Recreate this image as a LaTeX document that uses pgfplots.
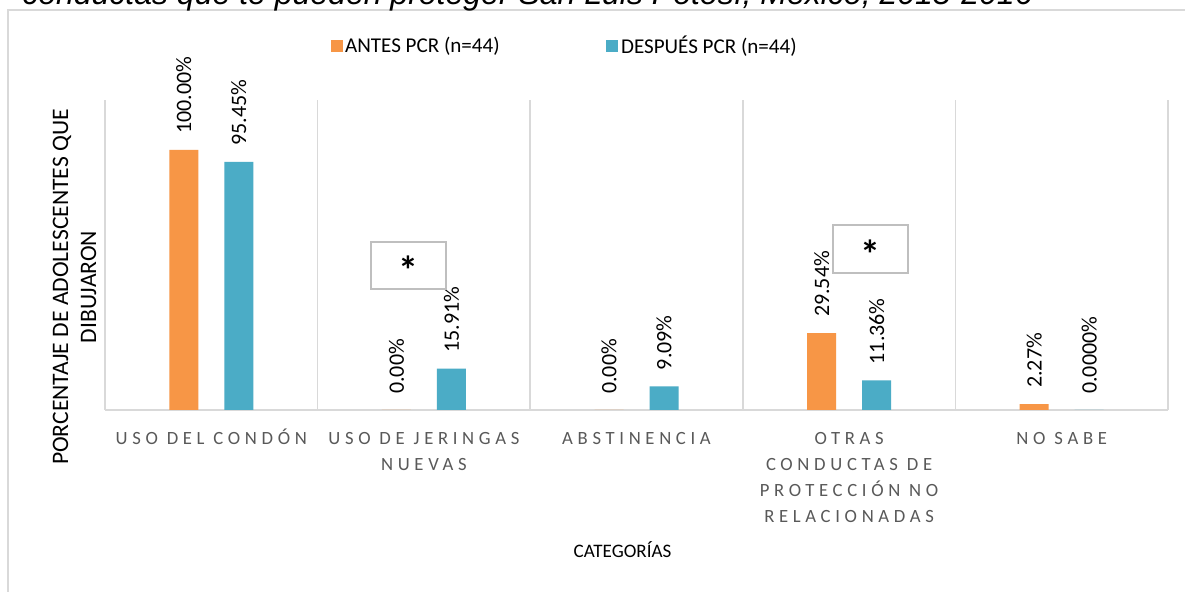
\documentclass[border=0pt]{standalone}
\usepackage{pgfplots}
\pgfplotsset{compat=1.18}
\usepackage{pgfplotstable}
\usepackage{fontspec}
\setmainfont{Carlito}
\newfontfamily\tickfont[LetterSpace=25]{Carlito}
\newfontfamily\titlefont{Liberation Sans}
\definecolor{antes}{HTML}{F79646}
\definecolor{despues}{HTML}{4BACC6}
\definecolor{gridc}{HTML}{D9D9D9}
\definecolor{tickc}{HTML}{595959}
\definecolor{boxc}{HTML}{BFBFBF}
\newcommand\ph{\vphantom{Ó}}

\pgfplotstableread{
x y lab
0 100 100.00
1 0 0.00
2 0 0.00
3 29.54 29.54
4 2.27 2.27
}\antes
\pgfplotstableread{
x y lab
0 95.45 95.45
1 15.91 15.91
2 9.09 9.09
3 11.36 11.36
4 0 0.0000
}\despues

\begin{document}
\begin{tikzpicture}
\begin{scope}[x=0.75pt,y=0.75pt]
\useasboundingbox (0,0) rectangle (1185,592);
\fill[white] (0,0) rectangle (1185,592);
\draw[gridc, line width=1.2pt] (8,-20) -- (8,582) -- (1200,582);
\node[anchor=base west, inner sep=0pt, font=\titlefont\itshape\fontsize{24}{28}\selectfont] at (22,587.5) {conductas que te pueden proteger San Luis Potosí, México, 2015-2016};
\end{scope}

\begin{axis}[
  at={(78.75pt,136.5pt)}, anchor=south west,
  scale only axis, width=797.25pt, height=232.5pt,
  xmin=-0.5, xmax=4.5, ymin=0, ymax=119.2,
  enlargelimits=false, clip=false,
  ybar=19.5pt, bar width=21.75pt,
  axis line style={draw=none},
  ytick=\empty,
  xtick={0,1,2,3,4},
  xticklabels={\ph USO DEL CONDÓN, {\ph USO DE JERINGAS\\NUEVAS}, \ph ABSTINENCIA, {\ph OTRAS\\CONDUCTAS DE\\PROTECCIÓN NO\\RELACIONADAS}, \ph NO SABE},
  major tick length=0pt,
  xticklabel style={font=\tickfont\fontsize{14}{19.5}\selectfont, text=tickc, align=center, anchor=north, inner sep=0pt, yshift=-14pt},
  extra x ticks={-0.5,0.5,1.5,2.5,3.5,4.5},
  extra x tick labels={},
  extra x tick style={grid=major, major grid style={gridc, line width=1.1pt}},
  extra y ticks={0},
  extra y tick labels={},
  extra y tick style={grid=major, major grid style={gridc, line width=1.5pt}},
  point meta=explicit symbolic,
  nodes near coords={\pgfplotspointmeta\%},
  nodes near coords style={font=\fontsize{16.5}{20}\selectfont, text=black, rotate=90, anchor=west, inner xsep=12pt, inner ysep=0pt},
  legend columns=2,
  legend style={at={(0.4327,1.174)}, anchor=center, draw=none, fill=none,
    font=\fontsize{15.8}{18}\selectfont,
    /tikz/every even column/.append style={column sep=78pt}},
  legend image code/.code={\fill[#1] (0pt,-4.5pt) rectangle (9pt,4.5pt);},
]
\addplot[fill=antes, draw=none] table[x=x, y=y, meta=lab] {\antes};
\addplot[fill=despues, draw=none] table[x=x, y=y, meta=lab] {\despues};
\legend{ANTES PCR (n=44), DESPUÉS PCR (n=44)}
\end{axis}

\begin{scope}[x=0.75pt,y=0.75pt]
\draw[boxc, line width=1.2pt] (371,592-242) rectangle (446,592-289);
\node[font=\bfseries\fontsize{30}{30}\selectfont, inner sep=0pt] at (408,592-270) {*};
\draw[boxc, line width=1.2pt] (833,592-225) rectangle (908,592-273);
\node[font=\bfseries\fontsize{30}{30}\selectfont, inner sep=0pt] at (870,592-254) {*};
\node[rotate=90, align=center, inner sep=0pt, font=\fontsize{17.7}{21}\selectfont] at (74.5,592-287) {PORCENTAJE DE ADOLESCENTES QUE\\DIBUJARON};
\node[anchor=base, inner sep=0pt, font=\fontsize{14.3}{17}\selectfont] at (622.5,34) {CATEGORÍAS};
\end{scope}
\end{tikzpicture}
\end{document}
